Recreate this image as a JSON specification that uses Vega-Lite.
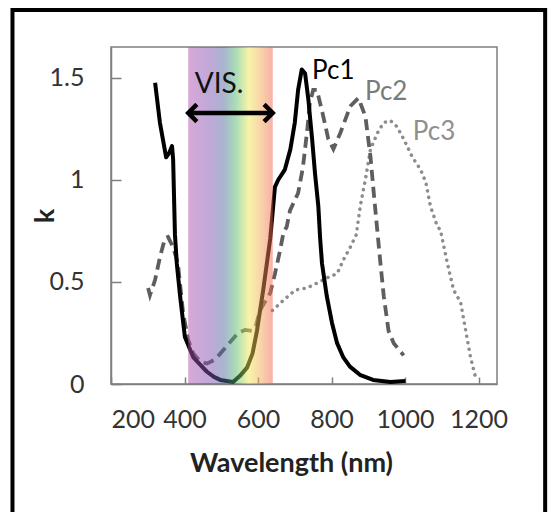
{
  "$schema": "https://vega.github.io/schema/vega-lite/v6.json",
  "width": 386,
  "height": 337,
  "autosize": {"type": "none"},
  "padding": {"left": 111, "top": 47, "right": 56, "bottom": 128},
  "background": "white",
  "config": {
    "view": {"stroke": "#7f7f7f", "strokeWidth": 1.5},
    "font": "Lato",
    "axis": {
      "grid": false,
      "domainColor": "#7f7f7f",
      "domainWidth": 1.5,
      "tickColor": "#7f7f7f",
      "tickWidth": 1.5,
      "labelFont": "Lato",
      "labelFontSize": 25,
      "labelColor": "#333333",
      "titleFont": "Lato",
      "titleFontWeight": "bold",
      "titleColor": "#222222"
    }
  },
  "datasets": {
    "curves": [
      {"series": "Pc1", "nm": 320, "k": 1.475},
      {"series": "Pc1", "nm": 333, "k": 1.28},
      {"series": "Pc1", "nm": 350, "k": 1.11},
      {"series": "Pc1", "nm": 358, "k": 1.13},
      {"series": "Pc1", "nm": 366, "k": 1.165},
      {"series": "Pc1", "nm": 369, "k": 1.1},
      {"series": "Pc1", "nm": 374, "k": 0.73},
      {"series": "Pc1", "nm": 379, "k": 0.59},
      {"series": "Pc1", "nm": 388, "k": 0.43},
      {"series": "Pc1", "nm": 401, "k": 0.23},
      {"series": "Pc1", "nm": 424, "k": 0.13},
      {"series": "Pc1", "nm": 445, "k": 0.09},
      {"series": "Pc1", "nm": 461, "k": 0.06},
      {"series": "Pc1", "nm": 480, "k": 0.035},
      {"series": "Pc1", "nm": 497, "k": 0.02},
      {"series": "Pc1", "nm": 532, "k": 0.01},
      {"series": "Pc1", "nm": 551, "k": 0.04},
      {"series": "Pc1", "nm": 570, "k": 0.08},
      {"series": "Pc1", "nm": 585, "k": 0.15},
      {"series": "Pc1", "nm": 597, "k": 0.26},
      {"series": "Pc1", "nm": 614, "k": 0.46},
      {"series": "Pc1", "nm": 633, "k": 0.71},
      {"series": "Pc1", "nm": 646, "k": 0.965},
      {"series": "Pc1", "nm": 655, "k": 1.0},
      {"series": "Pc1", "nm": 673, "k": 1.05},
      {"series": "Pc1", "nm": 688, "k": 1.15},
      {"series": "Pc1", "nm": 700, "k": 1.28},
      {"series": "Pc1", "nm": 709, "k": 1.44},
      {"series": "Pc1", "nm": 719, "k": 1.54},
      {"series": "Pc1", "nm": 728, "k": 1.52},
      {"series": "Pc1", "nm": 737, "k": 1.39},
      {"series": "Pc1", "nm": 747, "k": 1.2},
      {"series": "Pc1", "nm": 755, "k": 1.03},
      {"series": "Pc1", "nm": 764, "k": 0.87},
      {"series": "Pc1", "nm": 769, "k": 0.71},
      {"series": "Pc1", "nm": 774, "k": 0.59},
      {"series": "Pc1", "nm": 787, "k": 0.43},
      {"series": "Pc1", "nm": 801, "k": 0.3},
      {"series": "Pc1", "nm": 815, "k": 0.2},
      {"series": "Pc1", "nm": 832, "k": 0.13},
      {"series": "Pc1", "nm": 850, "k": 0.085},
      {"series": "Pc1", "nm": 877, "k": 0.045},
      {"series": "Pc1", "nm": 913, "k": 0.02},
      {"series": "Pc1", "nm": 960, "k": 0.01},
      {"series": "Pc1", "nm": 1001, "k": 0.015},
      {"series": "Pc2", "nm": 301, "k": 0.47},
      {"series": "Pc2", "nm": 306, "k": 0.435},
      {"series": "Pc2", "nm": 320, "k": 0.51},
      {"series": "Pc2", "nm": 333, "k": 0.62},
      {"series": "Pc2", "nm": 347, "k": 0.715},
      {"series": "Pc2", "nm": 355, "k": 0.72},
      {"series": "Pc2", "nm": 369, "k": 0.67},
      {"series": "Pc2", "nm": 382, "k": 0.59},
      {"series": "Pc2", "nm": 396, "k": 0.35},
      {"series": "Pc2", "nm": 410, "k": 0.215},
      {"series": "Pc2", "nm": 424, "k": 0.15},
      {"series": "Pc2", "nm": 442, "k": 0.11},
      {"series": "Pc2", "nm": 461, "k": 0.1},
      {"series": "Pc2", "nm": 483, "k": 0.12},
      {"series": "Pc2", "nm": 505, "k": 0.165},
      {"series": "Pc2", "nm": 524, "k": 0.205},
      {"series": "Pc2", "nm": 546, "k": 0.25},
      {"series": "Pc2", "nm": 565, "k": 0.265},
      {"series": "Pc2", "nm": 583, "k": 0.26},
      {"series": "Pc2", "nm": 595, "k": 0.29},
      {"series": "Pc2", "nm": 605, "k": 0.36},
      {"series": "Pc2", "nm": 633, "k": 0.445},
      {"series": "Pc2", "nm": 646, "k": 0.54},
      {"series": "Pc2", "nm": 660, "k": 0.655},
      {"series": "Pc2", "nm": 669, "k": 0.74},
      {"series": "Pc2", "nm": 678, "k": 0.77},
      {"series": "Pc2", "nm": 687, "k": 0.85},
      {"series": "Pc2", "nm": 709, "k": 0.935},
      {"series": "Pc2", "nm": 722, "k": 1.06},
      {"series": "Pc2", "nm": 733, "k": 1.23},
      {"series": "Pc2", "nm": 741, "k": 1.375},
      {"series": "Pc2", "nm": 750, "k": 1.44},
      {"series": "Pc2", "nm": 760, "k": 1.44},
      {"series": "Pc2", "nm": 775, "k": 1.33},
      {"series": "Pc2", "nm": 791, "k": 1.2},
      {"series": "Pc2", "nm": 805, "k": 1.15},
      {"series": "Pc2", "nm": 824, "k": 1.23},
      {"series": "Pc2", "nm": 851, "k": 1.36},
      {"series": "Pc2", "nm": 873, "k": 1.4},
      {"series": "Pc2", "nm": 892, "k": 1.31},
      {"series": "Pc2", "nm": 906, "k": 1.11},
      {"series": "Pc2", "nm": 914, "k": 0.95},
      {"series": "Pc2", "nm": 925, "k": 0.74},
      {"series": "Pc2", "nm": 933, "k": 0.59},
      {"series": "Pc2", "nm": 942, "k": 0.43},
      {"series": "Pc2", "nm": 955, "k": 0.26},
      {"series": "Pc2", "nm": 969, "k": 0.2},
      {"series": "Pc2", "nm": 996, "k": 0.14},
      {"series": "Pc3", "nm": 639, "k": 0.36},
      {"series": "Pc3", "nm": 669, "k": 0.41},
      {"series": "Pc3", "nm": 701, "k": 0.46},
      {"series": "Pc3", "nm": 733, "k": 0.47},
      {"series": "Pc3", "nm": 756, "k": 0.49},
      {"series": "Pc3", "nm": 788, "k": 0.52},
      {"series": "Pc3", "nm": 815, "k": 0.54},
      {"series": "Pc3", "nm": 833, "k": 0.61},
      {"series": "Pc3", "nm": 851, "k": 0.67},
      {"series": "Pc3", "nm": 867, "k": 0.73},
      {"series": "Pc3", "nm": 878, "k": 0.87},
      {"series": "Pc3", "nm": 892, "k": 1.0},
      {"series": "Pc3", "nm": 906, "k": 1.15},
      {"series": "Pc3", "nm": 925, "k": 1.23},
      {"series": "Pc3", "nm": 942, "k": 1.28},
      {"series": "Pc3", "nm": 960, "k": 1.29},
      {"series": "Pc3", "nm": 978, "k": 1.26},
      {"series": "Pc3", "nm": 996, "k": 1.2},
      {"series": "Pc3", "nm": 1020, "k": 1.11},
      {"series": "Pc3", "nm": 1042, "k": 1.05},
      {"series": "Pc3", "nm": 1056, "k": 0.99},
      {"series": "Pc3", "nm": 1069, "k": 0.87},
      {"series": "Pc3", "nm": 1088, "k": 0.77},
      {"series": "Pc3", "nm": 1096, "k": 0.755},
      {"series": "Pc3", "nm": 1115, "k": 0.59},
      {"series": "Pc3", "nm": 1132, "k": 0.46},
      {"series": "Pc3", "nm": 1151, "k": 0.4},
      {"series": "Pc3", "nm": 1165, "k": 0.26},
      {"series": "Pc3", "nm": 1178, "k": 0.13},
      {"series": "Pc3", "nm": 1192, "k": 0.03}
    ],
    "band": [{"start": 410, "end": 640}]
  },
  "data": {"name": "curves"},
  "layer": [
    {
      "transform": [{"filter": "datum.series === 'Pc3'"}],
      "mark": {"type": "line", "color": "#8c8c8c", "strokeWidth": 3.5, "strokeDash": [0.1, 6.5], "strokeCap": "round"},
      "encoding": {
        "x": {
          "field": "nm", "type": "quantitative",
          "scale": {"domain": [200, 1250], "nice": false, "zero": false},
          "axis": {
            "values": [200, 400, 600, 800, 1000, 1200], "format": "d",
            "tickSize": -7, "labelPadding": 30,
            "title": "Wavelength (nm)", "titleFontSize": 27,
            "titleX": 180, "titleY": 87, "titleBaseline": "alphabetic", "titleAlign": "center"
          }
        },
        "y": {
          "field": "k", "type": "quantitative",
          "scale": {"domain": [0, 1.65], "nice": false, "zero": false},
          "axis": {
            "values": [0, 0.5, 1, 1.5], "format": "~g",
            "tickSize": -10, "labelPadding": 37,
            "title": "k", "titleFontSize": 27,
            "titleX": -66, "titleY": 168.5, "titleBaseline": "middle", "titleAlign": "center", "titleAngle": -90
          }
        },
        "order": {"field": "nm", "type": "quantitative"}
      }
    },
    {
      "transform": [{"filter": "datum.series === 'Pc2'"}],
      "mark": {"type": "line", "color": "#5e5e5e", "strokeWidth": 3.8, "strokeDash": [11, 6]},
      "encoding": {
        "x": {"field": "nm", "type": "quantitative"},
        "y": {"field": "k", "type": "quantitative"},
        "order": {"field": "nm", "type": "quantitative"}
      }
    },
    {
      "transform": [{"filter": "datum.series === 'Pc1'"}],
      "mark": {"type": "line", "color": "#000000", "strokeWidth": 4, "strokeJoin": "round"},
      "encoding": {
        "x": {"field": "nm", "type": "quantitative"},
        "y": {"field": "k", "type": "quantitative"},
        "order": {"field": "nm", "type": "quantitative"}
      }
    },
    {
      "data": {"name": "band"},
      "mark": {
        "type": "rect",
        "opacity": 0.5,
        "fill": {
          "gradient": "linear", "x1": 0, "y1": 0, "x2": 1, "y2": 0,
          "stops": [
            {"offset": 0, "color": "#b151b1"},
            {"offset": 0.25, "color": "#8151b1"},
            {"offset": 0.42, "color": "#5169a1"},
            {"offset": 0.56, "color": "#51b971"},
            {"offset": 0.72, "color": "#f1e951"},
            {"offset": 0.84, "color": "#f1b151"},
            {"offset": 1, "color": "#f16151"}
          ]
        }
      },
      "encoding": {
        "x": {"field": "start", "type": "quantitative"},
        "x2": {"field": "end"}
      }
    },
    {
      "data": {"values": [{}]},
      "mark": {"type": "rule", "color": "#000000", "strokeWidth": 4.5},
      "encoding": {
        "x": {"datum": 414, "type": "quantitative"},
        "x2": {"datum": 636},
        "y": {"datum": 1.327, "type": "quantitative"}
      }
    },
    {
      "data": {"values": [{}]},
      "mark": {"type": "point", "shape": "M1,-1L0,0L1,1", "size": 300, "filled": false, "stroke": "#000000", "strokeWidth": 4.5, "opacity": 1, "strokeJoin": "miter"},
      "encoding": {
        "x": {"datum": 410, "type": "quantitative"},
        "y": {"datum": 1.327, "type": "quantitative"}
      }
    },
    {
      "data": {"values": [{}]},
      "mark": {"type": "point", "shape": "M-1,-1L0,0L-1,1", "size": 300, "filled": false, "stroke": "#000000", "strokeWidth": 4.5, "opacity": 1, "strokeJoin": "miter"},
      "encoding": {
        "x": {"datum": 640, "type": "quantitative"},
        "y": {"datum": 1.327, "type": "quantitative"}
      }
    },
    {
      "data": {"values": [{}]},
      "mark": {"type": "text", "text": "VIS.", "font": "Lato", "fontSize": 28, "color": "#111111", "align": "center", "baseline": "middle"},
      "encoding": {
        "x": {"datum": 494, "type": "quantitative"},
        "y": {"datum": 1.464, "type": "quantitative"}
      }
    },
    {
      "data": {"values": [{}]},
      "mark": {"type": "text", "text": "Pc1", "font": "Lato", "fontSize": 26, "color": "#000000", "align": "left", "baseline": "middle"},
      "encoding": {
        "x": {"datum": 747, "type": "quantitative"},
        "y": {"datum": 1.533, "type": "quantitative"}
      }
    },
    {
      "data": {"values": [{}]},
      "mark": {"type": "text", "text": "Pc2", "font": "Lato", "fontSize": 26, "color": "#7a7a7a", "align": "left", "baseline": "middle"},
      "encoding": {
        "x": {"datum": 891, "type": "quantitative"},
        "y": {"datum": 1.432, "type": "quantitative"}
      }
    },
    {
      "data": {"values": [{}]},
      "mark": {"type": "text", "text": "Pc3", "font": "Lato", "fontSize": 26, "color": "#8f8f8f", "align": "left", "baseline": "middle"},
      "encoding": {
        "x": {"datum": 1021, "type": "quantitative"},
        "y": {"datum": 1.234, "type": "quantitative"}
      }
    },
    {
      "data": {"values": [{}]},
      "mark": {"type": "rect", "filled": false, "stroke": "#000000", "strokeWidth": 4, "clip": false},
      "encoding": {
        "x": {"datum": -68, "type": "quantitative"},
        "x2": {"datum": 1381},
        "y": {"datum": 1.8316, "type": "quantitative"},
        "y2": {"datum": -0.7}
      }
    }
  ]
}
